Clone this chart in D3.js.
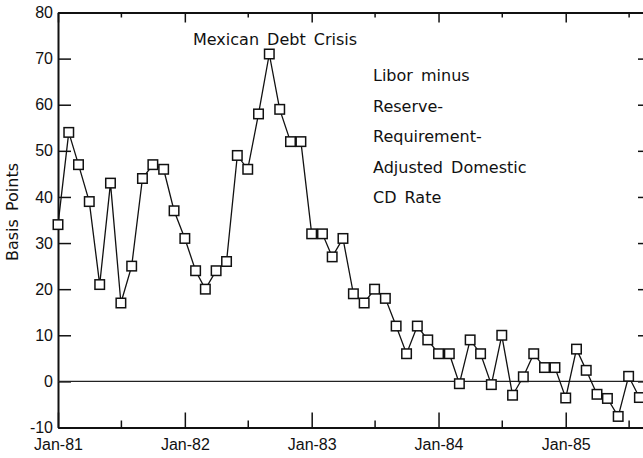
<!DOCTYPE html>
<html>
<head>
<meta charset="utf-8">
<script src="https://cdn.jsdelivr.net/npm/d3@7"></script>
<style>
    body { margin: 0; background: #fff; }
    svg { display: block; font-family: "DejaVu Sans", sans-serif; }
    .axis text { font-size: 16px; fill: #111; }
    .axis path, .axis line { stroke: #111; }
    .note { font-size: 16px; fill: #111; word-spacing: 3px; }
</style>
</head>
<body>
<svg id="chart"></svg>
<script>
// monthly spread, Jan-81 .. Aug-85 (basis points)
const startMonth = [1981, 0];
const spread = [34, 54, 47, 39, 21, 43, 17, 25, 44, 47, 46, 37,
    31, 24, 20, 24, 26, 49, 46, 58, 71, 59, 52, 52,
    32, 32, 27, 31, 19, 17, 20, 18, 12, 6, 12, 9,
    6, 6, -0.5, 9, 6, -0.7, 10, -3, 1, 6, 3, 3,
    -3.6, 7, 2.4, -2.8, -3.7, -7.6, 1.1, -3.5];
const yTicks = [-10, 0, 10, 20, 30, 40, 50, 60, 70, 80];
const yearTicks = [1981, 1982, 1983, 1984, 1985];
const midYearTicks = [1981, 1982, 1983, 1984, 1985];
const crisisLabel = "Mexican Debt Crisis";
const seriesLabel = ["Libor minus", "Reserve-", "Requirement-", "Adjusted Domestic", "CD Rate"];

const width = 643;
const height = 458;
const margin = { top: 12.5, right: -3, bottom: 30.5, left: 58 };

let svg = d3.select('#chart')
    .attr('width', width)
    .attr('height', height);

let data = spread.map((v, i) => ({ date: new Date(startMonth[0], startMonth[1] + i, 1), value: v }));

let x = d3.scaleTime()
    .domain([new Date(1981, 0, 1), new Date(1985, 7, 20)])
    .range([margin.left, width - margin.right]);
let y = d3.scaleLinear()
    .domain([-10, 80])
    .range([height - margin.bottom, margin.top]);

let majors = yearTicks.map(yr => new Date(yr, 0, 1));
let minors = midYearTicks.map(yr => new Date(yr, 6, 1));
let fmtY = d => d < 0 ? '-' + Math.abs(d) : d;

// bottom axis
svg.append('g')
    .attr('class', 'axis')
    .attr('transform', 'translate(0,' + y(-10) + ')')
    .call(d3.axisBottom(x).tickValues(majors).tickFormat(d3.timeFormat('%b-%y'))
        .tickSizeInner(-15).tickSizeOuter(0).tickPadding(11))
    .call(g => g.select('.domain').attr('stroke-width', 2))
    .call(g => g.selectAll('line').attr('stroke-width', 1.5));
svg.append('g')
    .attr('class', 'axis')
    .attr('transform', 'translate(0,' + y(-10) + ')')
    .call(d3.axisBottom(x).tickValues(minors).tickFormat('').tickSizeInner(-7).tickSizeOuter(0))
    .call(g => g.select('.domain').remove())
    .call(g => g.selectAll('line').attr('stroke-width', 1.5));

// top axis
svg.append('g')
    .attr('class', 'axis')
    .attr('transform', 'translate(0,' + y(80) + ')')
    .call(d3.axisTop(x).tickValues(majors).tickFormat('').tickSizeInner(-10).tickSizeOuter(0))
    .call(g => g.select('.domain').attr('stroke-width', 2))
    .call(g => g.selectAll('line').attr('stroke-width', 1.5));
svg.append('g')
    .attr('class', 'axis')
    .attr('transform', 'translate(0,' + y(80) + ')')
    .call(d3.axisTop(x).tickValues(minors).tickFormat('').tickSizeInner(-5).tickSizeOuter(0))
    .call(g => g.select('.domain').remove())
    .call(g => g.selectAll('line').attr('stroke-width', 1.5));

// left axis
svg.append('g')
    .attr('class', 'axis')
    .attr('transform', 'translate(' + margin.left + ',0)')
    .call(d3.axisLeft(y).tickValues(yTicks).tickFormat(fmtY)
        .tickSizeInner(-13).tickSizeOuter(0).tickPadding(5))
    .call(g => g.select('.domain').attr('stroke-width', 2))
    .call(g => g.selectAll('line').attr('stroke-width', 1.5));

// right axis
svg.append('g')
    .attr('class', 'axis')
    .attr('transform', 'translate(' + (width - margin.right) + ',0)')
    .call(d3.axisRight(y).tickValues(yTicks).tickFormat('').tickSizeInner(-8).tickSizeOuter(0))
    .call(g => g.select('.domain').attr('stroke-width', 2))
    .call(g => g.selectAll('line').attr('stroke-width', 1.5));

// zero line
svg.append('line')
    .attr('x1', margin.left)
    .attr('x2', width - margin.right)
    .attr('y1', y(0))
    .attr('y2', y(0))
    .attr('stroke', '#222')
    .attr('stroke-width', 1.2);

// y label
svg.append('text')
    .attr('class', 'note')
    .attr('transform', 'translate(18,' + 212 + ') rotate(-90)')
    .attr('text-anchor', 'middle')
    .text('Basis Points');

// series line
let line = d3.line()
    .x(d => x(d.date))
    .y(d => y(d.value));
svg.append('path')
    .datum(data)
    .attr('d', line)
    .attr('fill', 'none')
    .attr('stroke', '#111')
    .attr('stroke-width', 1.3);

let box = 9.5;
svg.selectAll('rect.pt')
    .data(data)
    .enter()
    .append('rect')
    .attr('class', 'pt')
    .attr('x', d => x(d.date) - box / 2)
    .attr('y', d => y(d.value) - box / 2)
    .attr('width', box)
    .attr('height', box)
    .attr('fill', '#fff')
    .attr('stroke', '#111')
    .attr('stroke-width', 1.5);

// annotations
svg.append('text')
    .attr('class', 'note')
    .attr('x', 193)
    .attr('y', 45)
    .text(crisisLabel);

svg.selectAll('text.legend')
    .data(seriesLabel)
    .enter()
    .append('text')
    .attr('class', 'note legend')
    .attr('x', 373)
    .attr('y', (d, i) => 81 + i * 30.5)
    .text(d => d);
</script>
</body>
</html>
